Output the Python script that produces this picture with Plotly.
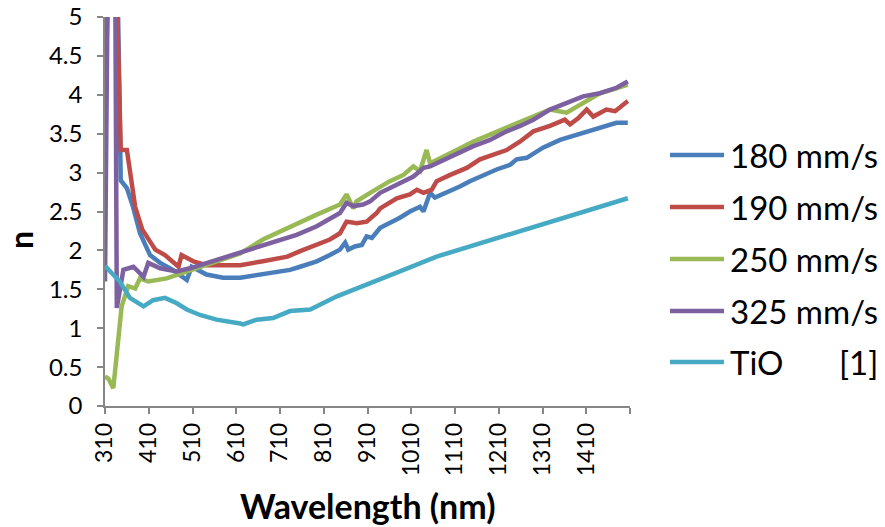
import plotly.graph_objects as go

# ---- data ----
wl_180 = [310, 320, 340, 346, 360, 374, 390, 413, 436, 465, 497, 508, 542, 580, 619, 671, 733, 756, 794, 824, 847, 859, 866, 881, 897, 908, 920, 939, 961, 984, 1007, 1030, 1038, 1048, 1053, 1064, 1091, 1121, 1144, 1174, 1205, 1236, 1251, 1274, 1311, 1350, 1380, 1419, 1448, 1479, 1505]
n_180 = [3.88, 6.0, 5.0, 2.9, 2.8, 2.56, 2.22, 1.94, 1.84, 1.75, 1.62, 1.79, 1.69, 1.65, 1.65, 1.69, 1.75, 1.79, 1.86, 1.94, 2.01, 2.10, 2.01, 2.05, 2.07, 2.18, 2.16, 2.29, 2.35, 2.42, 2.50, 2.56, 2.50, 2.68, 2.74, 2.68, 2.74, 2.82, 2.89, 2.97, 3.04, 3.10, 3.17, 3.19, 3.32, 3.42, 3.47, 3.55, 3.59, 3.64, 3.64]

wl_190 = [310, 320, 337, 346, 360, 379, 395, 425, 447, 478, 485, 512, 542, 619, 671, 727, 756, 794, 824, 847, 862, 885, 908, 931, 939, 977, 1007, 1023, 1038, 1057, 1068, 1099, 1137, 1167, 1198, 1228, 1259, 1289, 1327, 1361, 1373, 1392, 1411, 1426, 1456, 1476, 1505]
n_190 = [5.3, 7.0, 5.3, 3.29, 3.29, 2.56, 2.27, 2.01, 1.94, 1.79, 1.94, 1.86, 1.81, 1.81, 1.86, 1.92, 1.99, 2.07, 2.14, 2.22, 2.37, 2.35, 2.37, 2.48, 2.54, 2.67, 2.72, 2.78, 2.74, 2.78, 2.89, 2.97, 3.06, 3.17, 3.23, 3.29, 3.40, 3.53, 3.60, 3.68, 3.62, 3.70, 3.81, 3.72, 3.81, 3.79, 3.92]

wl_250 = [310, 318, 329, 348, 363, 379, 390, 409, 451, 489, 527, 565, 619, 671, 748, 794, 847, 862, 878, 885, 916, 939, 961, 992, 1015, 1030, 1045, 1053, 1076, 1114, 1152, 1190, 1228, 1259, 1289, 1327, 1365, 1403, 1441, 1472, 1505]
n_250 = [0.38, 0.35, 0.23, 1.28, 1.54, 1.51, 1.64, 1.60, 1.64, 1.71, 1.79, 1.86, 1.96, 2.14, 2.35, 2.46, 2.59, 2.72, 2.54, 2.63, 2.74, 2.82, 2.89, 2.97, 3.08, 3.02, 3.29, 3.12, 3.19, 3.29, 3.40, 3.49, 3.57, 3.64, 3.72, 3.81, 3.77, 3.90, 4.02, 4.07, 4.13]

wl_325 = [310, 317, 333, 337, 352, 375, 398, 409, 436, 474, 504, 580, 657, 733, 748, 794, 847, 862, 878, 900, 916, 939, 961, 992, 1015, 1030, 1038, 1053, 1076, 1114, 1152, 1190, 1228, 1259, 1289, 1327, 1365, 1403, 1441, 1479, 1505]
n_325 = [1.60, 6.0, 6.0, 1.26, 1.75, 1.79, 1.66, 1.84, 1.77, 1.73, 1.77, 1.90, 2.03, 2.16, 2.20, 2.31, 2.48, 2.61, 2.57, 2.59, 2.63, 2.74, 2.80, 2.89, 2.95, 3.02, 3.06, 3.08, 3.14, 3.25, 3.34, 3.42, 3.53, 3.60, 3.68, 3.81, 3.90, 3.98, 4.02, 4.09, 4.17]

wl_tio = [310, 344, 367, 382, 398, 420, 447, 474, 497, 527, 565, 619, 626, 657, 694, 733, 779, 840, 900, 939, 984, 1068, 1144, 1259, 1505]
n_tio = [1.80, 1.60, 1.39, 1.34, 1.28, 1.36, 1.39, 1.32, 1.24, 1.17, 1.11, 1.06, 1.05, 1.11, 1.13, 1.22, 1.24, 1.41, 1.54, 1.62, 1.73, 1.92, 2.05, 2.24, 2.67]

series_names = ["180 mm/s", "190 mm/s", "250 mm/s", "325 mm/s", "TiO"]
series_colors = ["#4A7EBB", "#BE4B48", "#98B954", "#7D60A0", "#46AAC5"]
series_x = [wl_180, wl_190, wl_250, wl_325, wl_tio]
series_y = [n_180, n_190, n_250, n_325, n_tio]

x_tick_vals = [310, 410, 510, 610, 710, 810, 910, 1010, 1110, 1210, 1310, 1410, 1510]
x_tick_text = ["310", "410", "510", "610", "710", "810", "910", "1010", "1110", "1210", "1310", "1410", ""]
y_tick_vals = [0, 0.5, 1, 1.5, 2, 2.5, 3, 3.5, 4, 4.5, 5]
y_tick_text = ["0", "0.5", "1", "1.5", "2", "2.5", "3", "3.5", "4", "4.5", "5"]

FONT = "Lato"
fig = go.Figure()
for xs, ys, name, col in zip(series_x, series_y, series_names, series_colors):
    fig.add_trace(go.Scatter(x=xs, y=ys, mode="lines", name=name,
                             line=dict(color=col, width=4.5), showlegend=False))

W, H = 885, 527
L, R, T, B = 105, 255, 17, 121
fig.update_layout(
    width=W, height=H, margin=dict(l=L, r=R, t=T, b=B),
    paper_bgcolor="white", plot_bgcolor="white",
    font=dict(family=FONT, color="black"),
    xaxis=dict(range=[310, 1510], tickmode="array", tickvals=x_tick_vals, ticktext=x_tick_text,
               tickangle=-90, ticks="outside", ticklen=6, tickcolor="#868686", tickwidth=1.5,
               showline=True, linecolor="#868686", linewidth=1.5, showgrid=False, zeroline=False,
               tickfont=dict(size=23, family=FONT), automargin=False),
    yaxis=dict(range=[0, 5], tickmode="array", tickvals=y_tick_vals, ticktext=y_tick_text,
               ticks="outside", ticklen=6, tickcolor="#868686", tickwidth=1.5,
               showline=True, linecolor="#868686", linewidth=1.5, showgrid=False, zeroline=False,
               tickfont=dict(size=24, family=FONT), ticklabelstandoff=10, automargin=False),
)

# axis titles
fig.add_annotation(text="<b>Wavelength (nm)</b>", xref="paper", yref="paper",
                   x=(367 - L) / (W - L - R), y=-(505 - (H - B)) / (H - T - B),
                   xanchor="center", yanchor="middle", showarrow=False,
                   font=dict(size=34, family=FONT))
fig.add_annotation(text="<b>n</b>", xref="paper", yref="paper",
                   x=-(105 - 20) / (W - L - R), y=(406 - 240) / (H - T - B),
                   xanchor="center", yanchor="middle", textangle=-90, showarrow=False,
                   font=dict(size=32, family=FONT))

# legend (manual)
pw, ph = W - L - R, H - T - B
def px2paper(x, y):
    return (x - L) / pw, (H - B - y) / ph
rows_y = [155, 207, 259, 311, 362]
for i, (name, col) in enumerate(zip(series_names, series_colors)):
    yy = rows_y[i]
    x0, y0 = px2paper(670, yy)
    x1, _ = px2paper(724, yy)
    fig.add_shape(type="line", xref="paper", yref="paper", x0=x0, x1=x1, y0=y0, y1=y0,
                  line=dict(color=col, width=4.5))
    tx, ty = px2paper(728, yy)
    fig.add_annotation(text=name, xref="paper", yref="paper", x=tx, y=ty,
                       xanchor="left", yanchor="middle", showarrow=False,
                       font=dict(size=33, family=FONT))
tx, ty = px2paper(880, rows_y[-1])
fig.add_annotation(text="[1]", xref="paper", yref="paper", x=tx, y=ty,
                   xanchor="right", yanchor="middle", showarrow=False,
                   font=dict(size=33, family=FONT))

fig.write_html("out.html", config={"displayModeBar": False},
               post_script="document.body.style.margin='0';document.body.style.overflow='hidden';")
